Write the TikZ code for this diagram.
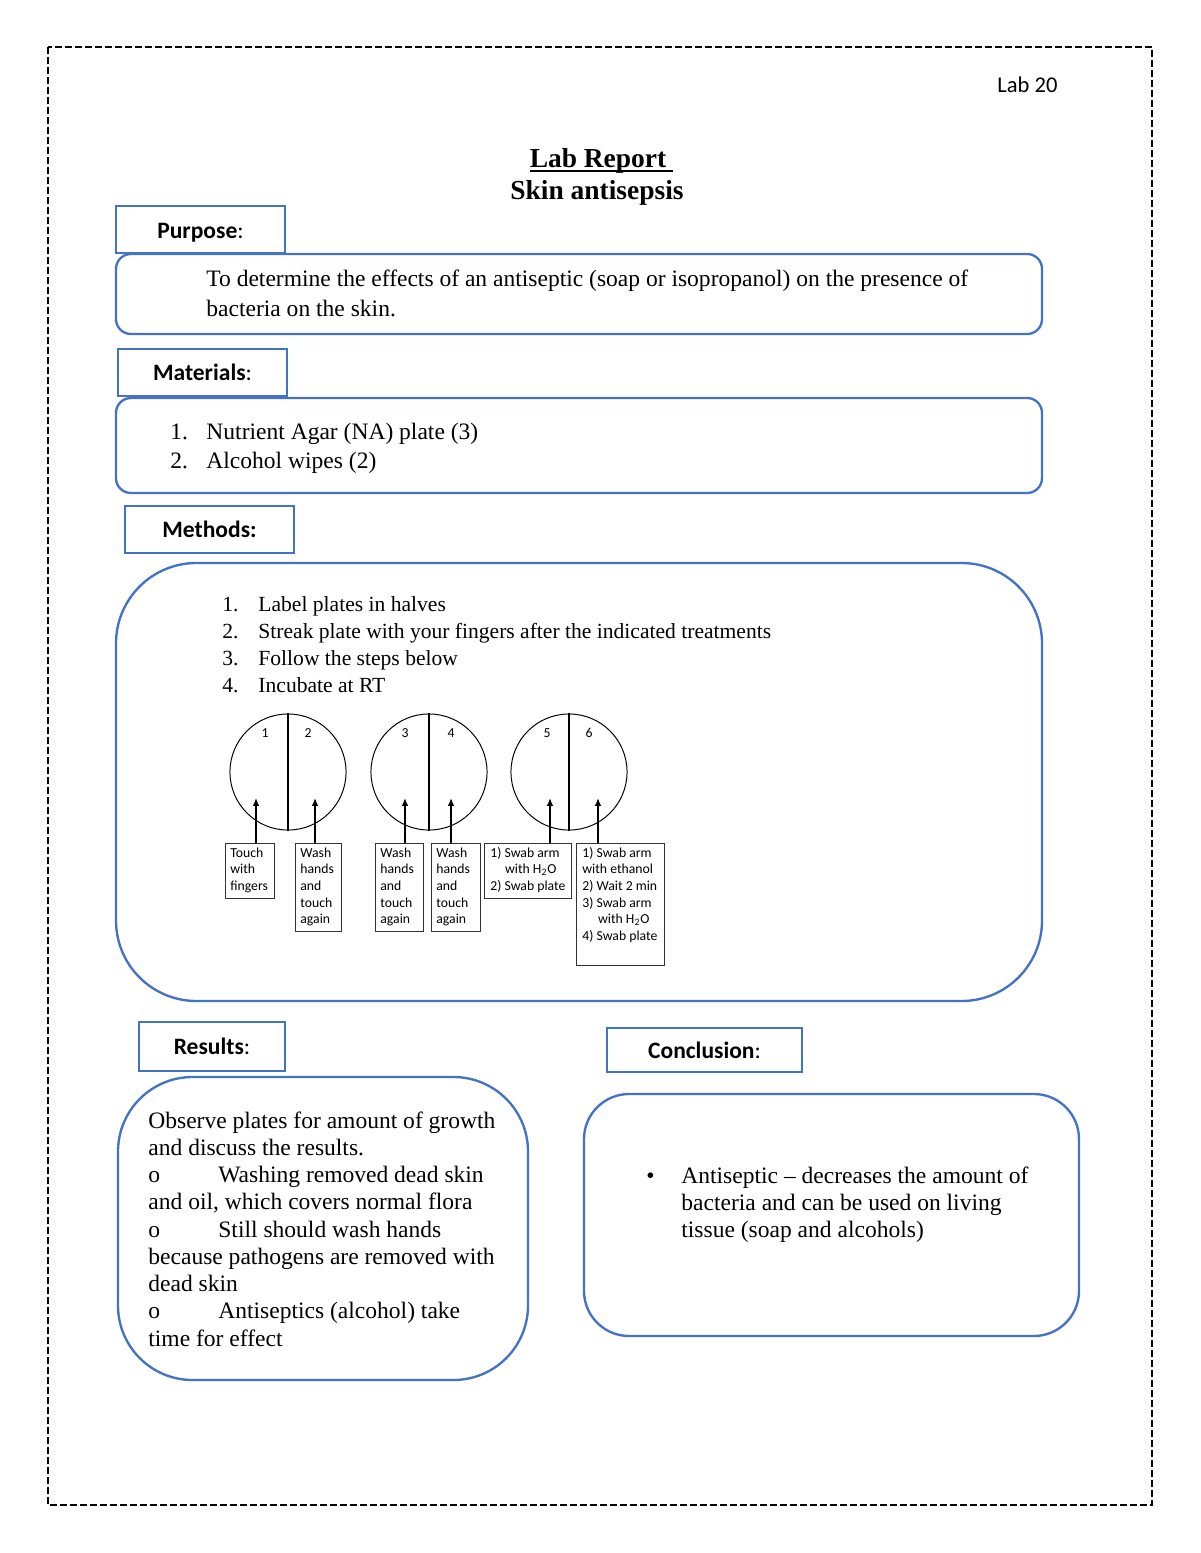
\documentclass[tikz,border=0pt]{standalone}
\usepackage{fontspec}
\setmainfont{Liberation Serif}
\newfontfamily\calibri{Carlito}
\usepackage{tikz}
\usetikzlibrary{arrows.meta,positioning,fit}

\definecolor{boxblue}{HTML}{4472C4}

\newlength{\ullen}
\newcommand{\labul}[1]{\settowidth{\ullen}{#1}\rlap{\rule[-2pt]{\ullen}{0.8pt}}#1}
\newcommand{\linesat}[1]{\begin{tabular}[t]{@{}l@{}}#1\end{tabular}}

\tikzset{
  pageframe/.style={draw=black, line width=1.2pt, dash pattern=on 3.6pt off 1.5pt},
  headbox/.style={draw=boxblue, line width=1.2pt, inner sep=0pt},
  headtext/.style={anchor=base, yshift=-4.2pt, inner sep=0pt, font=\calibri\bfseries\fontsize{12}{14}\selectfont},
  bodybox/.style={draw=boxblue, line width=1.2pt, inner sep=0pt, rounded corners=#1},
  bodytext/.style={anchor=base west, inner sep=0pt, align=left,
    font=\fontsize{12}{13.9}\selectfont},
  plate/.style={circle, draw=black, line width=0.5pt, minimum size=59.2pt, inner sep=0pt},
  divider/.style={draw=black, line width=1pt},
  num/.style={inner sep=0pt, font=\calibri\fontsize{7}{8}\selectfont},
  stepbox/.style={draw=black!80, line width=0.5pt, inner sep=0pt},
  steptext/.style={anchor=base west, inner sep=0pt, align=left,
    font=\calibri\fontsize{7}{8.5}\selectfont},
  arr/.style={-{Latex[length=4pt,width=3.4pt]}, line width=1pt}
}

\begin{document}
\begin{tikzpicture}[x=0.51pt, y=-0.51pt]
\useasboundingbox (0,0) rectangle (1200,1553);
\draw[pageframe] (48,47) rectangle (1152,1505);

\node[anchor=base west, inner sep=0pt, font=\calibri\fontsize{11.5}{13}\selectfont] (labno) at (997,93) {Lab 20};
\node[anchor=base, inner sep=0pt, font=\bfseries\fontsize{14}{16}\selectfont] (title) at (598,168) {\labul{Lab Report\ }};
\node[anchor=base, inner sep=0pt, font=\bfseries\fontsize{14}{16}\selectfont] (subtitle) at (597,200) {Skin antisepsis};

% purpose
\node[headbox, fit={(116,206) (285,253)}] (purpose) {};
\node[headtext, yshift=-0.6pt] (purposelbl) at (purpose.center) {Purpose\textmd{:}};
\node[bodybox=7.6pt, fit={(116,254) (1042,334)}] (purposebox) {};
\node[bodytext, font=\fontsize{12}{14.8}\selectfont] (purposetxt) at (206,287) {\linesat{To determine the effects of an antiseptic (soap or isopropanol) on the presence of\\bacteria on the skin.}};

% materials
\node[headbox, fit={(118,349) (287,396)}] (materials) {};
\node[headtext] (materialslbl) at (materials.center) {Materials\textmd{:}};
\node[bodybox=7.6pt, fit={(116,398) (1042,493)}] (materialsbox) {};
\node[bodytext, font=\fontsize{12}{14.8}\selectfont] (materialstxt) at (170,439) {\begin{tabular}[t]{@{}p{18.4pt}@{}l@{}}1. & Nutrient Agar (NA) plate (3)\\2. & Alcohol wipes (2)\end{tabular}};

% methods
\node[headbox, fit={(125,506) (294,553)}] (methods) {};
\node[headtext] (methodslbl) at (methods.center) {Methods:};
\node[bodybox=41pt, fit={(116,563) (1042,1001)}] (methodsbox) {};
\node[bodytext, font=\fontsize{11}{13.8}\selectfont] (methodstxt) at (222,611) {\begin{tabular}[t]{@{}p{18.4pt}@{}l@{}}1. & Label plates in halves\\2. & Streak plate with your fingers after the indicated treatments\\3. & Follow the steps below\\4. & Incubate at RT\end{tabular}};

\node[plate] (p1) at (288,772) {};
\node[plate] (p2) at (429,772) {};
\node[plate] (p3) at (569,772) {};
\foreach \p in {p1,p2,p3}
  \draw[divider] (\p.north) -- (\p.south);

\node[num] (n1) at (265,733) {1};
\node[num] (n2) at (308,733) {2};
\node[num] (n3) at (405,733) {3};
\node[num] (n4) at (451,733) {4};
\node[num] (n5) at (547,733) {5};
\node[num] (n6) at (589,733) {6};

\node[stepbox, fit={(225,843) (274,898)}] (s1) {};
\node[stepbox, fit={(295,843) (341,931)}] (s2) {};
\node[stepbox, fit={(375,843) (423,931)}] (s3) {};
\node[stepbox, fit={(431,843) (480,931)}] (s4) {};
\node[stepbox, fit={(484,843) (571,898)}] (s5) {};
\node[stepbox, fit={(576,843) (664,965)}] (s6) {};

\node[steptext] (l1) at (230,857) {\linesat{Touch\\with\\fingers}};
\node[steptext] (l2) at (300,857) {\linesat{Wash\\hands\\and\\touch\\again}};
\node[steptext] (l3) at (380,857) {\linesat{Wash\\hands\\and\\touch\\again}};
\node[steptext] (l4) at (436,857) {\linesat{Wash\\hands\\and\\touch\\again}};
\node[steptext] (l5) at (490,857) {\linesat{1) Swab arm\\\hspace*{7.5pt}with H\textsubscript{2}O\\2) Swab plate}};
\node[steptext] (l6) at (582,857) {\linesat{1) Swab arm\\with ethanol\\2) Wait 2 min\\3) Swab arm\\\hspace*{8pt}with H\textsubscript{2}O\\4) Swab plate}};

\coordinate (a1) at (256,798);
\coordinate (a2) at (315,798);
\coordinate (a3) at (405,798);
\coordinate (a4) at (451,798);
\coordinate (a5) at (550,798);
\coordinate (a6) at (598,798);
\foreach \i in {1,...,6}
  \draw[arr] (a\i |- s\i.north) -- (a\i);

% results
\node[headbox, fit={(139,1022) (285,1071)}] (results) {};
\node[headtext] (resultslbl) at (results.center) {Results\textmd{:}};
\node[bodybox=38pt, fit={(118,1077) (528,1380)}] (resultsbox) {};
\node[bodytext] (resultstxt) at (148,1128) {\linesat{Observe plates for amount of growth\\and discuss the results.\\\makebox[35.7pt][l]{o}Washing removed dead skin\\and oil, which covers normal flora\\\makebox[35.7pt][l]{o}Still should wash hands\\because pathogens are removed with\\dead skin\\\makebox[35.7pt][l]{o}Antiseptics (alcohol) take\\time for effect}};

% conclusion
\node[headbox, fit={(607,1028) (802,1072)}] (conclusion) {};
\node[headtext] (conclusionlbl) at (conclusion.center) {Conclusion\textmd{:}};
\node[bodybox=23pt, fit={(584,1094) (1079,1336)}] (conclusionbox) {};
\node[bodytext] (bullet) at (646,1183) {\textbullet};
\node[bodytext] (conclusiontxt) at (681,1183) {\linesat{Antiseptic -- decreases the amount of\\bacteria and can be used on living\\tissue (soap and alcohols)}};
\end{tikzpicture}
\end{document}
